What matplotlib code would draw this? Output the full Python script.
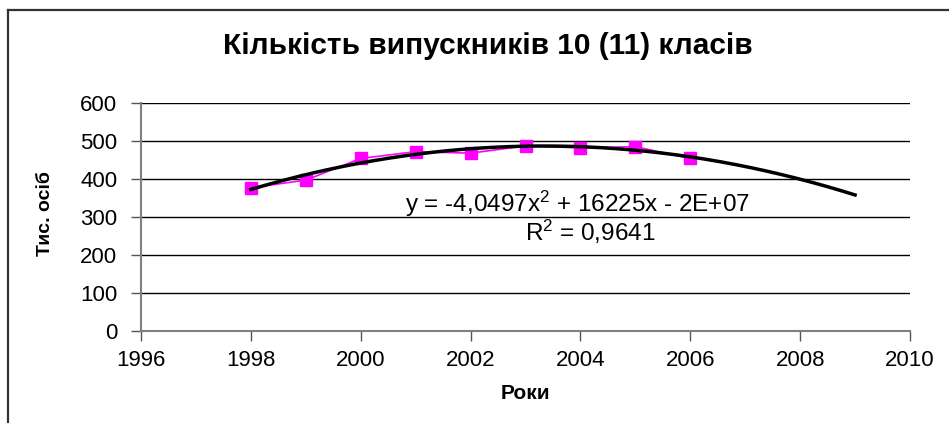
import numpy as np
import matplotlib
matplotlib.use("Agg")
from matplotlib import pyplot as plt
from matplotlib.lines import Line2D

plt.rcParams['font.family'] = ['Liberation Sans', 'DejaVu Sans']
plt.rcParams['mathtext.fontset'] = 'custom'
plt.rcParams['mathtext.rm'] = 'Liberation Sans'
plt.rcParams['mathtext.it'] = 'Liberation Sans'

years = [1998, 1999, 2000, 2001, 2002, 2003, 2004, 2005, 2006]
graduates = [377, 397, 454, 472, 468, 487, 482, 485, 454]

title = "Кількість випускників 10 (11) класів"
x_label = "Роки"
y_label = "Тис. осіб"
eq_text = r"y = -4,0497x$^\mathrm{2}$ + 16225x - 2E+07"
r2_text = r"R$^\mathrm{2}$ = 0,9641"
x_ticks = [1996, 1998, 2000, 2002, 2004, 2006, 2008, 2010]
y_ticks = [0, 100, 200, 300, 400, 500, 600]

# polynomial trend (2nd order), extended one period beyond data
coef = np.polyfit(years, graduates, 2)
trend_x = np.linspace(1998, 2009, 200)
trend_y = np.polyval(coef, trend_x)

fig = plt.figure(figsize=(9.49, 4.23), dpi=100)
ax = fig.add_axes([141 / 949, 1 - 331 / 423, (910 - 141) / 949, (331 - 103) / 423])

ax.set_xlim(1996, 2010)
ax.set_ylim(0, 600)
ax.set_xticks(x_ticks)
ax.set_yticks(y_ticks)
ax.grid(axis='y', color='black', linewidth=1.0)
ax.set_axisbelow(True)

for s in ['top', 'right']:
    ax.spines[s].set_visible(False)
for s in ['left', 'bottom']:
    ax.spines[s].set_color('#808080')
    ax.spines[s].set_linewidth(1.5)

ax.tick_params(axis='both', direction='out', length=7, width=1, color='#555555',
               labelsize=16)
ax.tick_params(axis='y', pad=10)
ax.tick_params(axis='x', pad=7)

ax.plot(years, graduates, color='#ff00ff', linewidth=1.2, marker='s',
        markersize=9, markerfacecolor='#ff00ff', markeredgecolor='#ff00ff', zorder=3)
ax.plot(trend_x, trend_y, color='black', linewidth=2.5, zorder=4)

fig.text(525 / 949, 1 - 393 / 423, x_label, fontsize=15, fontweight='bold',
         ha='center', va='center')
fig.text(45 / 949, 1 - 214 / 423, y_label, fontsize=14, fontweight='bold',
         ha='center', va='center', rotation=90)

fig.text(577 / 949, 1 - 204 / 423, eq_text, fontsize=17.5, ha='center', va='center')
fig.text(590 / 949, 1 - 232 / 423, r2_text, fontsize=17.5, ha='center', va='center')
fig.text(488 / 949, 1 - 46 / 423, title, fontsize=21.5, fontweight='bold',
         ha='center', va='center')

# chart frame (top and left edges visible)
fig.add_artist(Line2D([8 / 949, 8 / 949], [0, 1 - 10.5 / 423], color='#333333', linewidth=1.6))
fig.add_artist(Line2D([8 / 949, 1], [1 - 10.5 / 423, 1 - 10.5 / 423], color='#333333', linewidth=1.6))

fig.savefig("out.png", dpi=100)
